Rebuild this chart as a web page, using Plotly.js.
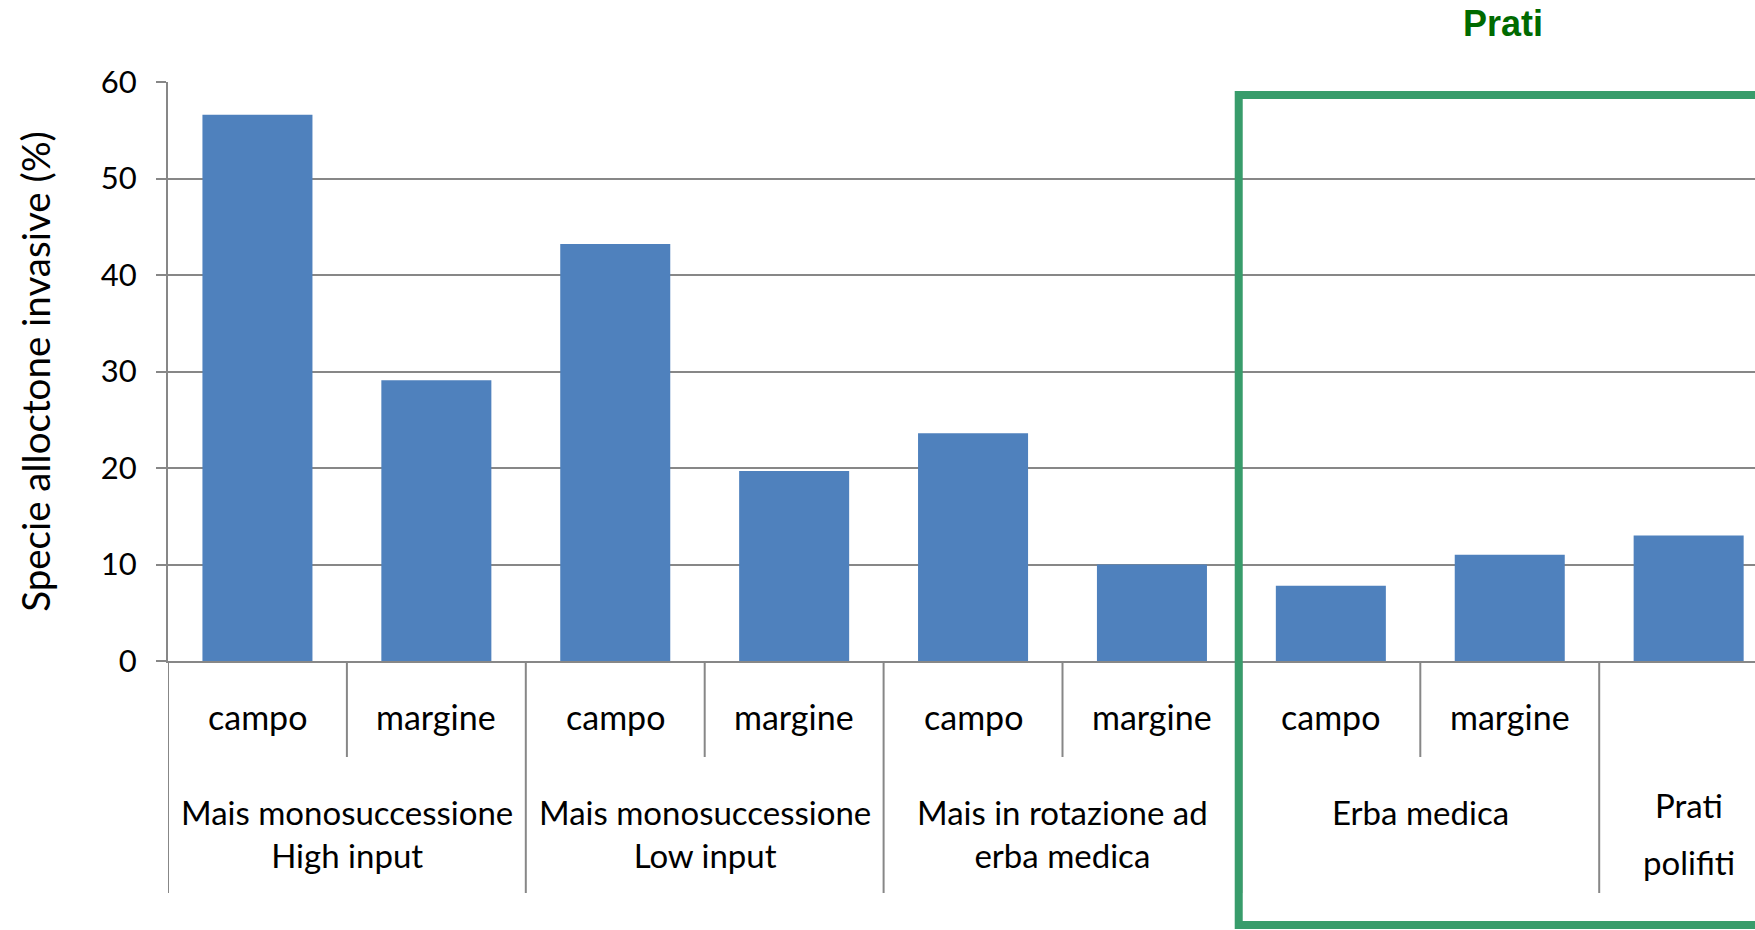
<!DOCTYPE html>
<html>
<head>
<meta charset="utf-8">
<script src="https://cdn.plot.ly/plotly-3.0.1.min.js"></script>
<style>html,body{margin:0;padding:0;background:#fff;} #chart{width:1755px;height:930px;}</style>
</head>
<body>
<div id="chart"></div>
<script>
// ---- data ----
const subLabels = ["campo", "margine", "campo", "margine", "campo", "margine", "campo", "margine", ""];
const groupOf = [
  "Mais monosuccessione<br>High input", "Mais monosuccessione<br>High input",
  "Mais monosuccessione<br>Low input", "Mais monosuccessione<br>Low input",
  "Mais in rotazione ad<br>erba medica", "Mais in rotazione ad<br>erba medica",
  "Erba medica", "Erba medica",
  "Prati<br>polifiti"
];
const values = [56.6, 29.1, 43.2, 19.7, 23.6, 10.0, 7.8, 11.0, 13.0];
const yTickVals = [0, 10, 20, 30, 40, 50, 60];
const yTitle = "Specie alloctone invasive (%)";
const boxTitle = "Prati";
const boxFirstGroup = "Erba medica";

// ---- styling ----
const GRID = "#878787";
const BAR = "#4F81BD";
const GREEN = "#389C6B";
const FONT = "Lato, 'Open Sans', sans-serif";

const idx = values.map((_, i) => i);

// plot geometry (pixels) used to express paper offsets below the axis
const plotH = 930 - 82 - 269;
const px = p => -p / plotH; // distance below the x axis -> paper y

const annotations = [];
// inner category labels
subLabels.forEach((s, i) => {
  if (!s) return;
  annotations.push({
    x: i, xref: "x", y: px(55), yref: "paper", yanchor: "middle",
    text: s, showarrow: false, font: {family: FONT, size: 34, color: "#000"}
  });
});
// group labels
const groups = [];
groupOf.forEach((g, i) => {
  const last = groups[groups.length - 1];
  if (last && last.name === g) last.idx.push(i); else groups.push({name: g, idx: [i]});
});
groups.forEach(g => {
  const cx = g.idx.reduce((a, b) => a + b, 0) / g.idx.length;
  if (g.idx.length === 1) {
    // narrow cell: wrapped text with wider line spacing
    g.name.split("<br>").forEach((line, k) => {
      annotations.push({
        x: cx, xref: "x", y: px(144 + 57 * k), yref: "paper", yanchor: "middle",
        text: line, showarrow: false, font: {family: FONT, size: 33, color: "#000"}
      });
    });
  } else {
    annotations.push({
      x: cx, xref: "x", y: px(129), yref: "paper", yanchor: "top",
      text: g.name, showarrow: false, align: "center",
      font: {family: FONT, size: 33, color: "#000"}
    });
  }
});

// dividers between categories / groups
const shapes = [];
for (let b = 0; b < values.length; b++) {
  const long = b === 0 || groupOf[b] !== groupOf[b - 1];
  shapes.push({
    type: "line", xref: "x", yref: "paper",
    x0: b - 0.5, x1: b - 0.5, y0: 0, y1: px(long ? 232 : 96),
    line: {color: GRID, width: 2}
  });
}
// green box around the "Prati" groups
const boxStart = groupOf.indexOf(boxFirstGroup) - 0.5;
shapes.push({
  type: "rect", xref: "x", yref: "paper", layer: "above",
  x0: boxStart - 0.015, x1: values.length + 1, y0: px(264), y1: (plotH - 13) / plotH,
  line: {color: GREEN, width: 8}, fillcolor: "rgba(0,0,0,0)"
});

const trace = {
  type: "bar", x: idx, y: values,
  marker: {color: BAR, line: {width: 0}},
  hoverinfo: "skip"
};

const layout = {
  width: 1755, height: 930,
  margin: {l: 168, r: 0, t: 82, b: 269, pad: 0},
  paper_bgcolor: "#fff", plot_bgcolor: "#fff",
  bargap: 0.385,
  showlegend: false,
  title: {
    text: "<b>" + boxTitle + "</b>",
    x: 1503 / 1755, xanchor: "center", xref: "container",
    y: 1 - 23.4 / 930, yanchor: "middle", yref: "container",
    font: {family: "'Liberation Sans', Arial, sans-serif", size: 36, color: "#006A00"}
  },
  xaxis: {
    type: "linear", range: [-0.5, -0.5 + 1587 / 178.9],
    showticklabels: false, ticks: "", showgrid: false, zeroline: false,
    showline: true, linecolor: GRID, linewidth: 2, fixedrange: true
  },
  yaxis: {
    range: [0, 60], tickvals: yTickVals, ticktext: yTickVals.map(String),
    ticks: "outside", ticklen: 10, tickwidth: 2, tickcolor: GRID,
    showline: true, linecolor: GRID, linewidth: 2,
    showgrid: true, gridcolor: GRID, gridwidth: 2, zeroline: false,
    tickfont: {family: FONT, size: 31, color: "#000"},
    ticklabelstandoff: 13,
    title: {text: yTitle, standoff: 38, font: {family: FONT, size: 38.5, color: "#000"}},
    automargin: false, fixedrange: true
  },
  annotations: annotations,
  shapes: shapes
};

Plotly.newPlot("chart", [trace], layout, {staticPlot: true, displayModeBar: false});
</script>
</body>
</html>
